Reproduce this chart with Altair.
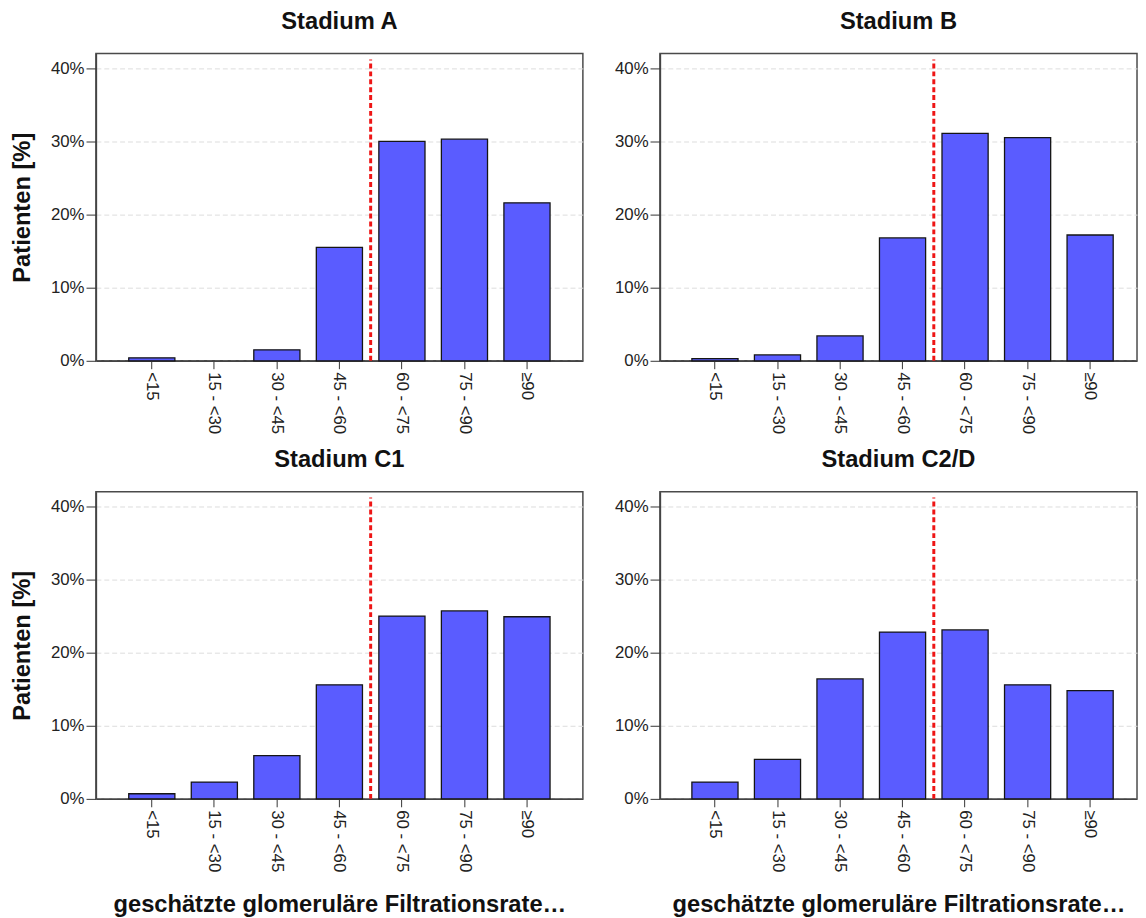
import altair as alt
import pandas as pd

categories = ["<15", "15 - <30", "30 - <45", "45 - <60", "60 - <75", "75 - <90", "≥90"]
stadium_a = [0.4, 0.0, 1.5, 15.5, 30.0, 30.3, 21.6]
stadium_b = [0.3, 0.8, 3.4, 16.8, 31.1, 30.5, 17.2]
stadium_c1 = [0.7, 2.3, 5.9, 15.6, 25.0, 25.7, 24.9]
stadium_c2d = [2.3, 5.4, 16.4, 22.8, 23.1, 15.6, 14.8]

titles = ["Stadium A", "Stadium B", "Stadium C1", "Stadium C2/D"]
y_title = "Patienten [%]"
x_title = "geschätzte glomeruläre Filtrationsrate…"
y_ticks = [0, 10, 20, 30, 40]

# red dashed reference line at the 60 ml/min boundary
threshold_cat = ["45 - <60"]
threshold_top = [41.2]

FONT = "Liberation Sans"
PAD_INNER = 0.262
STEP = 63.3
GAP_HALF = STEP * PAD_INNER / 2


def panel(values, title, width, pad_outer, align, left, bottom):
    df = pd.DataFrame({"cat": categories, "pct": values})
    rule_df = pd.DataFrame({"cat": threshold_cat, "y0": [0.0], "y1": threshold_top})
    xscale = alt.Scale(domain=categories, paddingInner=PAD_INNER,
                       paddingOuter=pad_outer, align=align)
    yscale = alt.Scale(domain=[0, 42], nice=False)
    xaxis = alt.Axis(
        title=x_title if bottom else None,
        labelAngle=90, labelAlign="left", labelBaseline="middle",
        labelFontSize=17, labelFont=FONT, labelColor="#222222", labelPadding=3,
        tickSize=8, tickColor="#333333", domainColor="#444444", domainWidth=1.5,
        titleFontSize=24, titleFont=FONT, titleFontWeight="bold", titleColor="#111111",
        titlePadding=21, grid=False,
    )
    yaxis = alt.Axis(
        title=y_title if left else None,
        values=y_ticks, labelExpr="datum.value + '%'",
        labelFontSize=17, labelFont=FONT, labelColor="#222222", labelPadding=2,
        tickSize=10, tickColor="#333333", domainColor="#444444", domainWidth=1.5,
        grid=True, gridDash=[5, 3], gridColor="#dcdcdc",
        titleFontSize=24, titleFont=FONT, titleFontWeight="bold", titleColor="#111111",
        titlePadding=16,
    )
    bars = alt.Chart(df).transform_filter("datum.pct > 0").mark_bar(
        color="#5a5cff", stroke="#151515", strokeWidth=1.3
    ).encode(
        x=alt.X("cat:N", scale=xscale, axis=xaxis, sort=categories),
        y=alt.Y("pct:Q", scale=yscale, axis=yaxis),
    )
    rule = alt.Chart(rule_df).mark_rule(
        color="#ee1515", strokeWidth=3, strokeDash=[5, 3], xOffset=GAP_HALF
    ).encode(
        x=alt.X("cat:N", scale=xscale, bandPosition=1, sort=categories),
        y=alt.Y("y0:Q", scale=yscale),
        y2="y1:Q",
    )
    return alt.layer(bars, rule).properties(
        width=width, height=311,
        title=alt.TitleParams(title, fontSize=24, font=FONT, fontWeight="bold",
                              color="#111111", offset=19.5),
    )


pa = panel(stadium_a, titles[0], 493, 0.525, 0.5, True, False)
pb = panel(stadium_b, titles[1], 483, 0.446, 0.573, False, False)
pc = panel(stadium_c1, titles[2], 493, 0.525, 0.5, True, True)
pd_ = panel(stadium_c2d, titles[3], 483, 0.446, 0.573, False, True)

chart = alt.vconcat(
    alt.hconcat(pa, pb, spacing=30),
    alt.hconcat(pc, pd_, spacing=30),
    spacing=12.5,
).properties(
    padding={"left": 2, "top": -4.5, "right": 0, "bottom": 0},
    background="white",
).configure_view(
    stroke="#4a4a4a", strokeWidth=1.5
)

chart.save("out.html", embed_options={"renderer": "svg", "actions": False})
